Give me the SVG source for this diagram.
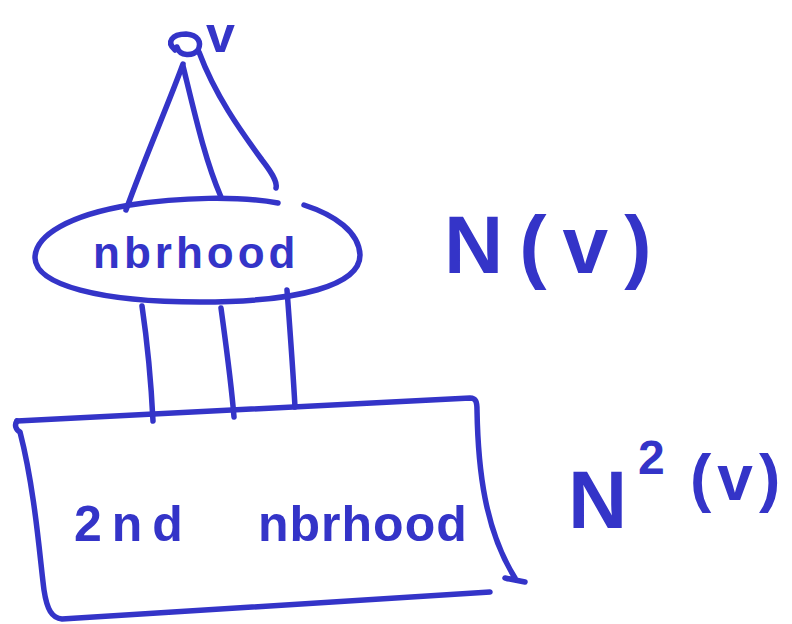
<svg xmlns="http://www.w3.org/2000/svg" width="792" height="624" viewBox="0 0 792 624">
<style>
.s{fill:none;stroke:#3434c8;stroke-width:5.5;stroke-linecap:round;stroke-linejoin:round}
.t{fill:#3434c8;font-family:"Liberation Sans","DejaVu Sans",sans-serif;font-weight:bold}
</style>
<rect width="792" height="624" fill="#fff"/>
<g id="v">
<path class="s" d="M175,50 C166,42 172,34 186,34 C198,35 202,42 198,50 C193,56 180,57 177,47"/>
<text class="t" x="206" y="52" font-size="52">v</text>
</g>
<g id="connectors">
<path class="s" d="M183,64 C168,105 146,155 126,210"/>
<path class="s" d="M183,66 C195,115 205,160 221,197"/>
<path class="s" d="M199,52 C215,95 240,130 262,160 C276,178 277,184 276,188"/>
<path class="s" d="M142,306 C147,340 151,380 153,421"/>
<path class="s" d="M221,308 C226,345 231,380 234,417"/>
<path class="s" d="M287,290 C290,330 293,370 295,407"/>
</g>
<g id="nbrhood">
<path class="s" d="M278,203 C240,196 180,197 130,205 C70,215 35,235 35,258 C36,285 100,302 200,302 C300,302 360,285 360,255 C359,232 335,215 304,205"/>
<text class="t" x="93" y="268" font-size="44" letter-spacing="4">nbrhood</text>
</g>
<g id="N-v">
<text class="t" x="444" y="273" font-size="82" letter-spacing="16">N(v)</text>
</g>
<g id="nbrhood2">
<path class="s" d="M17,421 C14,425 16,430 20,432 C35,490 40,560 44,590 C47,610 52,618 62,619 L490,592"/>
<path class="s" d="M17,421 L470,398 C476,398 477,402 477,410 C478,470 485,530 515,578 C510,580 505,578 505,578 L525,582"/>
<text class="t" x="74" y="541" font-size="50" letter-spacing="10">2nd</text>
<text class="t" x="258" y="541" font-size="50" letter-spacing="1">nbrhood</text>
</g>
<g id="N2-v">
<text class="t" x="568" y="528" font-size="82">N</text>
<text class="t" x="638" y="474" font-size="48">2</text>
<text class="t" x="690" y="500" font-size="64" letter-spacing="6">(v)</text>
</g>
</svg>
